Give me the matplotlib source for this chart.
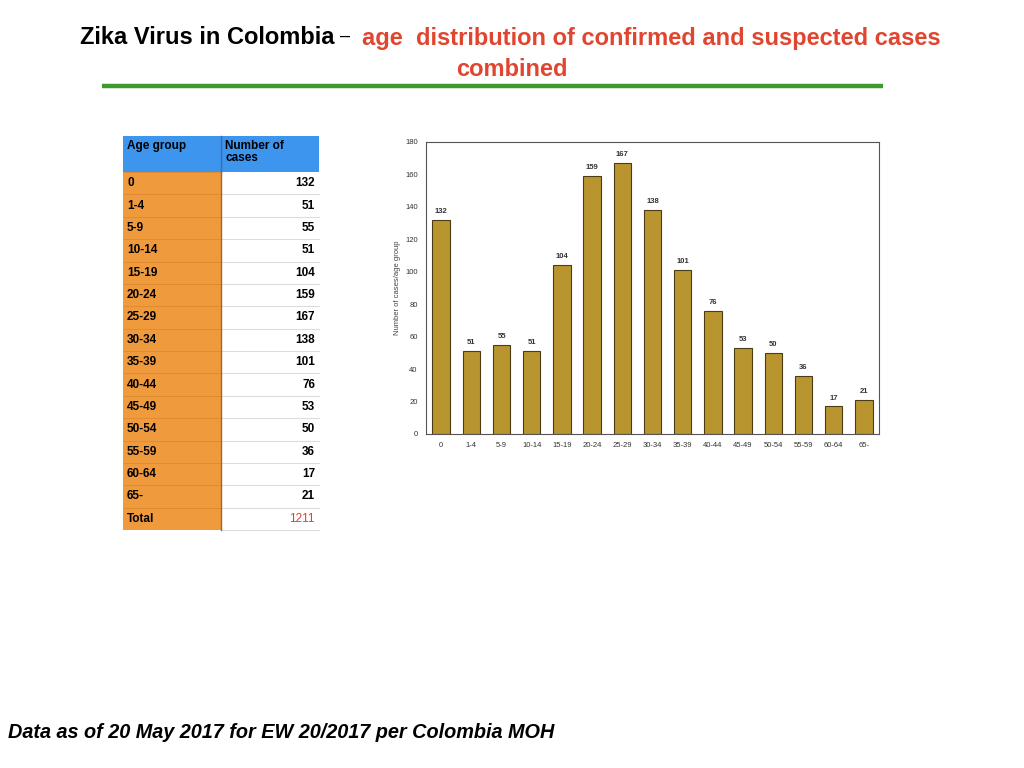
import numpy as np
import matplotlib.pyplot as plt
from matplotlib.patches import Rectangle

# age groups and case counts
ageGroups = ['0', '1-4', '5-9', '10-14', '15-19', '20-24', '25-29', '30-34',
             '35-39', '40-44', '45-49', '50-54', '55-59', '60-64', '65-']
cases = [132, 51, 55, 51, 104, 159, 167, 138, 101, 76, 53, 50, 36, 17, 21]
total = 1211

plt.rcParams['font.family'] = ['Liberation Sans', 'DejaVu Sans']

fig = plt.figure(figsize=(10.24, 7.68), dpi=100)

# full-figure axes in pixel units for title, table and footer
bg = fig.add_axes([0, 0, 1, 1])
bg.set_xlim(0, 1024)
bg.set_ylim(768, 0)
bg.axis('off')

# title
bg.text(335, 38, 'Zika Virus in Colombia', ha='right', va='center',
        fontsize=17, fontweight='bold', color='black')
bg.text(340, 36, '\u2013', ha='left', va='center', fontsize=13, color='black')
bg.text(362, 38, 'age  distribution of confirmed and suspected cases', ha='left',
        va='center', fontsize=17, fontweight='bold', color='#e0462f')
bg.text(512, 70, 'combined', ha='center', va='center', fontsize=17,
        fontweight='bold', color='#e0462f')
bg.plot([102, 883], [86, 86], color='#3f9a2c', lw=3.2, solid_capstyle='butt')

# table
x0, xm, x1 = 123, 221, 319
top = 136
headH = 36
rowH = 22.375
bg.add_patch(Rectangle((x0, top), xm - x0, headH, color='#3d95ee', lw=0))
bg.add_patch(Rectangle((xm + 1, top), x1 - xm - 1, headH, color='#3d95ee', lw=0))
bg.plot([xm, xm], [top, top + headH], color='#3a6fb0', lw=1)
bg.text(x0 + 4, top + 4, 'Age group', ha='left', va='top', fontsize=8.5,
        fontweight='bold')
bg.text(xm + 4, top + 4, 'Number of\ncases', ha='left', va='top', fontsize=8.5,
        fontweight='bold', linespacing=1.0)

rowLabels = ageGroups + ['Total']
rowValues = [str(c) for c in cases] + [str(total)]
for i, (lab, val) in enumerate(zip(rowLabels, rowValues)):
    y = top + headH + i * rowH
    bg.add_patch(Rectangle((x0, y), xm - x0, rowH, color='#f09a3e', lw=0))
    bg.plot([x0, xm], [y, y], color='#e08a30', lw=0.6)
    bg.plot([xm + 1, x1], [y + rowH, y + rowH], color='#dddddd', lw=0.8)
    bg.text(x0 + 4, y + rowH / 2, lab, ha='left', va='center', fontsize=8.5,
            fontweight='bold')
    col = '#d9412c' if lab == 'Total' else 'black'
    w = 'normal' if lab == 'Total' else 'bold'
    bg.text(x1 - 4, y + rowH / 2, val, ha='right', va='center', fontsize=8.5,
            fontweight=w, color=col)
bg.plot([xm, xm], [top + headH, top + headH + len(rowLabels) * rowH],
        color='#a0662a', lw=1)

# footer
bg.text(8, 733, 'Data as of 20 May 2017 for EW 20/2017 per Colombia MOH',
        ha='left', va='center', fontsize=14.3, fontweight='bold', style='italic')

# bar chart
ax = fig.add_axes([426 / 1024, 1 - 434 / 768, (879 - 426) / 1024, (434 - 142) / 768])
X = np.arange(len(ageGroups))
ax.bar(X, cases, width=0.57, color='#b8952f', edgecolor='#4a3c14', linewidth=0.8)
for xi, c in zip(X, cases):
    ax.text(xi, c + 3, str(c), ha='center', va='bottom', fontsize=5.5,
            fontweight='bold', color='#333333')
ax.set_xlim(-0.5, len(ageGroups) - 0.5)
ax.set_ylim(0, 180)
ax.set_yticks(range(0, 181, 20))
ax.set_xticks(X)
ax.set_xticklabels(ageGroups)
ax.tick_params(axis='both', labelsize=5.5, length=0, colors='#333333', pad=6)
ax.set_ylabel('Number of cases/age group', fontsize=5.5, color='#444444', labelpad=3)
for s in ax.spines.values():
    s.set_color('#555555')
    s.set_linewidth(0.8)

fig.savefig('out.png', dpi=100)
